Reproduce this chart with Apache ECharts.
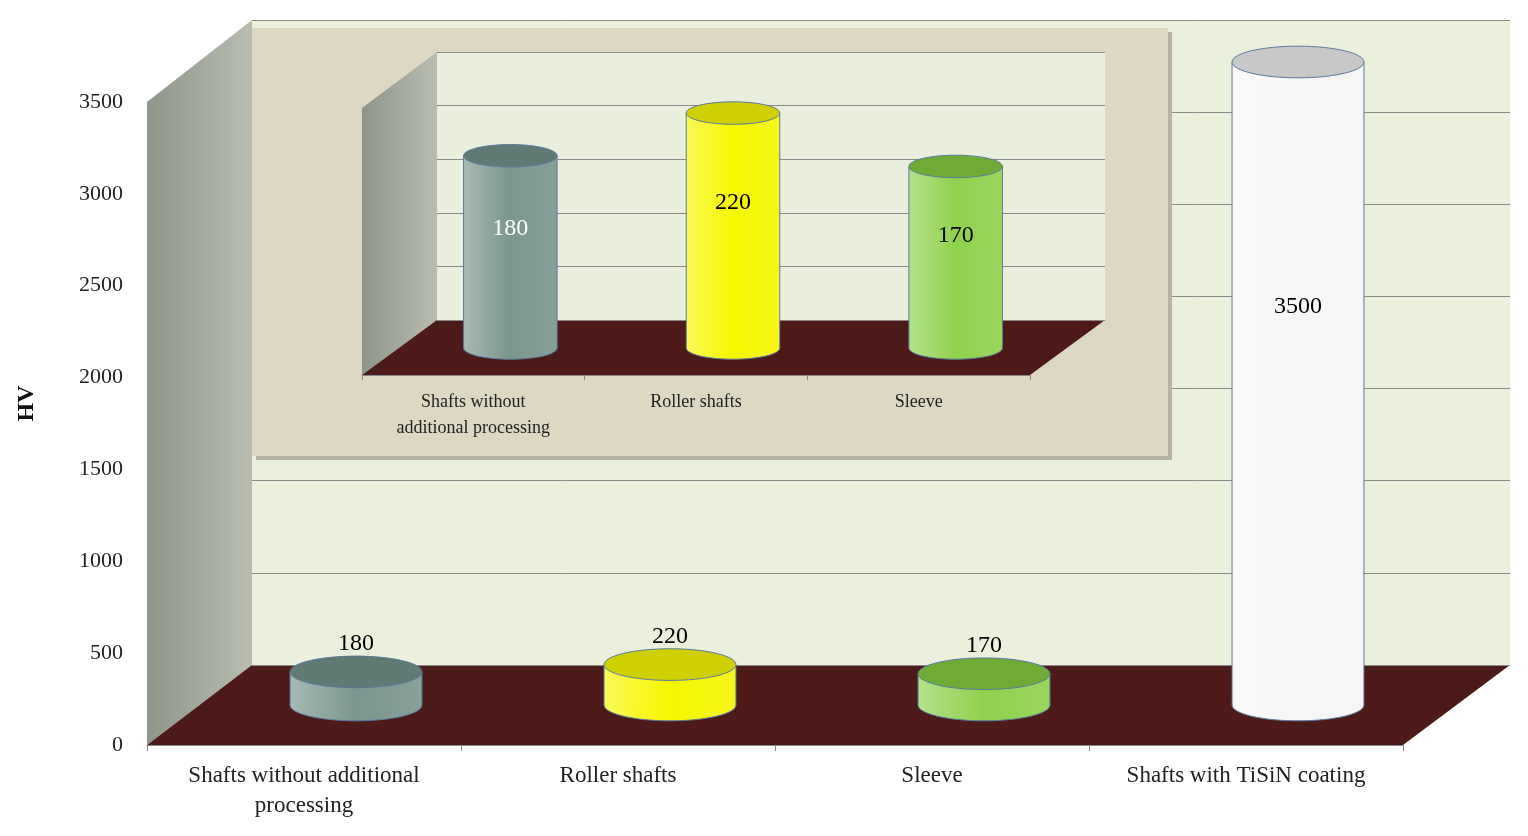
<!DOCTYPE html>
<html><head><meta charset="utf-8">
<script src="https://cdn.jsdelivr.net/npm/echarts@6/dist/echarts.min.js"></script>
<style>html,body{margin:0;padding:0;background:#fff}#c{width:1528px;height:836px}</style>
</head><body><div id="c"></div>
<script>
// data
var categories = ['Shafts without additional\nprocessing', 'Roller shafts', 'Sleeve', 'Shafts with TiSiN coating'];
var values = [180, 220, 170, 3500];
var colors = ['#7a968e', '#f6f600', '#8ed24c', '#f6f6f6'];
var topColors = ['#5f7a72', '#d0d000', '#6fac36', '#c8c8c8'];
var insetCategories = ['Shafts without\nadditional processing', 'Roller shafts', 'Sleeve'];
var insetValues = [180, 220, 170];

var FONT = 'Liberation Serif';
var chart = echarts.init(document.getElementById('c'));

// 3D 深度偏移
function cyl(dx, dy, wFrac, cols, tops, inside, fs) {
    return function (params, api) {
        var i = api.value(0), v = api.value(1);
        var p0 = api.coord([i, 0]), p1 = api.coord([i, v]);
        var cx = p0[0] + dx, yb = p0[1] + dy, yt = p1[1] + dy;
        var rx = api.size([1, 0])[0] * wFrac / 2, ry = rx * 0.24;
        var c = cols[i];
        var grad = new echarts.graphic.LinearGradient(0, 0, 1, 0, [
            { offset: 0, color: echarts.color.lift(c, 0.35) },
            { offset: 0.5, color: c },
            { offset: 1, color: echarts.color.lift(c, 0.1) }
        ]);
        var kids = [
            { type: 'ellipse', shape: { cx: cx, cy: yb, rx: rx, ry: ry }, style: { fill: grad, stroke: '#5a7aa0', lineWidth: 1 } },
            { type: 'rect', shape: { x: cx - rx, y: yt, width: 2 * rx, height: yb - yt }, style: { fill: grad } },
            { type: 'line', shape: { x1: cx - rx, y1: yt, x2: cx - rx, y2: yb }, style: { stroke: '#5a7aa0', lineWidth: 1 } },
            { type: 'line', shape: { x1: cx + rx, y1: yt, x2: cx + rx, y2: yb }, style: { stroke: '#5a7aa0', lineWidth: 1 } },
            { type: 'ellipse', shape: { cx: cx, cy: yt, rx: rx, ry: ry }, style: { fill: tops[i], stroke: '#5a7aa0', lineWidth: 1 } }
        ];
        var inBar = inside || (yb - yt > 100);
        kids.push({
            type: 'text',
            style: {
                text: String(v), x: cx, y: inBar ? (yt + Math.min(250, (yb - yt) * 0.38)) : yt - 28,
                align: 'center', verticalAlign: 'middle', font: fs + 'px ' + FONT,
                fill: inBar && (i === 0) && inside ? '#fff' : '#000'
            }
        });
        return { type: 'group', children: kids };
    };
}

var option = {
    animation: false,
    backgroundColor: '#ffffff',
    graphic: [
        // main side wall + floor
        { type: 'polygon', shape: { points: [[147, 102], [252, 20], [252, 665], [147, 745]] }, style: { fill: new echarts.graphic.LinearGradient(0, 0, 1, 0, [{ offset: 0, color: '#8e9689' }, { offset: 1, color: '#b8bdb0' }]) }, z: -3 },
        { type: 'polygon', shape: { points: [[147, 745], [252, 665], [1510, 665], [1403, 745]] }, style: { fill: '#4b1a19' }, z: -2 },
        // inset panel
        { type: 'rect', shape: { x: 256, y: 32, width: 916, height: 428 }, style: { fill: '#b8b4a4' }, z: 1 },
        { type: 'rect', shape: { x: 252, y: 28, width: 916, height: 428 }, style: { fill: '#ddd8c2' }, z: 1 },
        { type: 'rect', shape: { x: 437, y: 52, width: 668, height: 268 }, style: { fill: '#e9efdc' }, z: 1 },
        { type: 'polygon', shape: { points: [[362, 108], [437, 52], [437, 320], [362, 375]] }, style: { fill: new echarts.graphic.LinearGradient(0, 0, 1, 0, [{ offset: 0, color: '#8e9689' }, { offset: 1, color: '#b8bdb0' }]) }, z: 1 },
        { type: 'polygon', shape: { points: [[362, 375], [437, 320], [1105, 320], [1030, 375]] }, style: { fill: '#4b1a19' }, z: 1 }
    ],
    grid: [
        { left: 252, right: 18, top: 20, bottom: 171, show: true, backgroundColor: '#eaf0dc', borderWidth: 0 },
        { left: 147, right: 125, top: 102, bottom: 91 },
        { left: 437, right: 423, top: 52, bottom: 516, z: 2 },
        { left: 362, right: 498, top: 108, bottom: 461, z: 2 }
    ],
    xAxis: [
        { gridIndex: 0, type: 'category', data: categories, show: false },
        { gridIndex: 1, type: 'category', data: categories, axisLine: { lineStyle: { color: '#888' } }, axisTick: { show: true, length: 6, lineStyle: { color: '#888' } },
          axisLabel: { fontFamily: FONT, fontSize: 23, color: '#222', lineHeight: 30, margin: 16 } },
        { gridIndex: 2, type: 'category', data: insetCategories, show: false },
        { gridIndex: 3, type: 'category', data: insetCategories, z: 3, axisLine: { lineStyle: { color: '#888' } }, axisTick: { show: true, length: 5, lineStyle: { color: '#888' } },
          axisLabel: { fontFamily: FONT, fontSize: 18, color: '#222', lineHeight: 26, margin: 14 } }
    ],
    yAxis: [
        { gridIndex: 0, type: 'value', min: 0, max: 3500, interval: 500, axisLabel: { show: false }, axisLine: { show: false }, axisTick: { show: false }, splitLine: { lineStyle: { color: '#8a8a8a' } } },
        { gridIndex: 1, type: 'value', min: 0, max: 3500, interval: 500, splitLine: { show: false }, axisLine: { show: false }, axisTick: { show: false },
          name: 'HV', nameLocation: 'middle', nameGap: 108, nameRotate: 90, nameTextStyle: { fontFamily: FONT, fontSize: 24, fontWeight: 'bold', color: '#111', padding: [0, 0, 0, 40] },
          axisLabel: { fontFamily: FONT, fontSize: 22, color: '#222', margin: 24, formatter: function (v) { return String(v); } } },
        { gridIndex: 2, type: 'value', min: 0, max: 250, interval: 50, z: 2, axisLabel: { show: false }, axisLine: { show: false }, axisTick: { show: false }, splitLine: { lineStyle: { color: '#8a8a8a' } } },
        { gridIndex: 3, type: 'value', min: 0, max: 250, interval: 50, splitLine: { show: false }, axisLine: { show: false }, axisTick: { show: false },
          axisLabel: { fontFamily: FONT, fontSize: 17, color: '#222', margin: 20 } }
    ],
    series: [
        { type: 'custom', xAxisIndex: 1, yAxisIndex: 1, z: 0, renderItem: cyl(52, -40, 0.42, colors, topColors, false, 24),
          data: values.map(function (v, i) { return [i, v]; }) },
        { type: 'custom', xAxisIndex: 3, yAxisIndex: 3, z: 5, renderItem: cyl(37, -27, 0.42, colors, topColors, true, 24),
          data: insetValues.map(function (v, i) { return [i, v]; }) }
    ]
};
chart.setOption(option);
window.addEventListener('resize', function () { chart.resize(); });
</script>
</body></html>
